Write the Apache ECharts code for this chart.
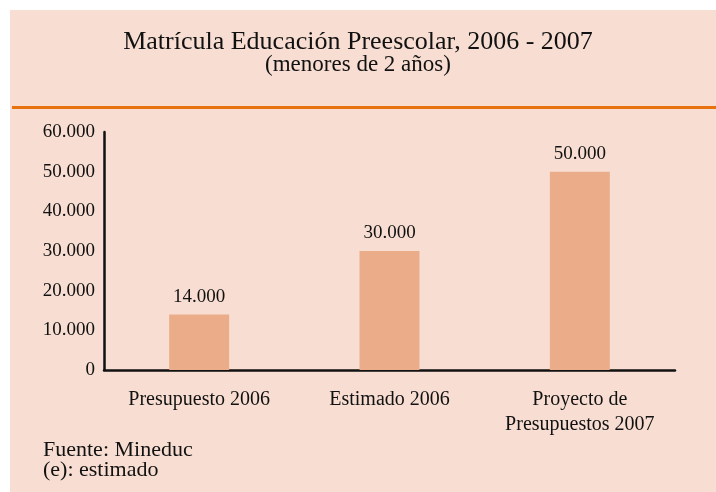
<!DOCTYPE html>
<html>
<head>
<meta charset="utf-8">
<script src="https://cdn.jsdelivr.net/npm/echarts@6/dist/echarts.min.js"></script>
<style>
  html, body { margin: 0; padding: 0; background: #ffffff; }
  #main { width: 716px; height: 492px; }
</style>
</head>
<body>
<div id="main"></div>
<script>
// datos del grafico
var categorias = ['Presupuesto 2006', 'Estimado 2006', 'Proyecto de\nPresupuestos 2007'];
var matricula = [14000, 30000, 50000];
var ticksY = [0, 10000, 20000, 30000, 40000, 50000, 60000];

function formatoMiles(v) {
    // 14000 -> 14.000
    return String(v).replace(/\B(?=(\d{3})+(?!\d))/g, '.');
}

var fondo = '#f8ded2';
var serif = '"Liberation Serif", "Times New Roman", serif';

var myChart = echarts.init(document.getElementById('main'));

var option = {
    backgroundColor: '#ffffff',
    animation: false,
    graphic: [
        {
            type: 'rect',
            z: -10,
            shape: { x: 10, y: 10, width: 706, height: 482 },
            style: { fill: fondo }
        },
        {
            type: 'rect',
            z: -5,
            shape: { x: 12, y: 106, width: 704, height: 3 },
            style: { fill: '#e8720f' }
        }
    ],
    title: [{
        text: 'Matrícula Educación Preescolar, 2006 - 2007',
        subtext: '(menores de 2 años)',
        left: 'center',
        top: 30,
        padding: 0,
        itemGap: -3,
        textStyle: {
            fontFamily: serif,
            fontSize: 26,
            fontWeight: 'normal',
            lineHeight: 25,
            color: '#111111'
        },
        subtextStyle: {
            fontFamily: serif,
            fontSize: 23,
            lineHeight: 23,
            color: '#111111'
        }
    }, {
        // nota de fuente
        text: 'Fuente: Mineduc',
        subtext: '(e): estimado',
        left: 43,
        top: 439,
        padding: 0,
        itemGap: -2,
        textStyle: {
            fontFamily: serif,
            fontSize: 22,
            fontWeight: 'normal',
            lineHeight: 22,
            color: '#111111'
        },
        subtextStyle: {
            fontFamily: serif,
            fontSize: 22,
            lineHeight: 22,
            color: '#111111'
        }
    }],
    grid: {
        left: 104,
        right: 41,
        top: 132,
        bottom: 122,
        containLabel: false
    },
    xAxis: {
        type: 'category',
        data: categorias,
        axisLine: { lineStyle: { color: '#111111', width: 2.5 } },
        axisTick: { show: false },
        axisLabel: {
            margin: 17,
            fontFamily: serif,
            fontSize: 20,
            lineHeight: 25,
            color: '#111111',
            interval: 0
        }
    },
    yAxis: {
        type: 'value',
        min: ticksY[0],
        max: ticksY[ticksY.length - 1],
        interval: 10000,
        axisLine: { show: true, lineStyle: { color: '#111111', width: 2.5 } },
        axisTick: { show: false },
        splitLine: { show: false },
        axisLabel: {
            margin: 9,
            fontFamily: serif,
            fontSize: 19,
            color: '#111111',
            formatter: function (v) { return formatoMiles(v); }
        }
    },
    series: [{
        name: 'Matrícula',
        type: 'bar',
        data: matricula,
        barWidth: 60,
        itemStyle: { color: '#ebac89' },
        label: {
            show: true,
            position: 'top',
            distance: 8,
            fontFamily: serif,
            fontSize: 19,
            color: '#111111',
            formatter: function (p) { return formatoMiles(p.value); }
        }
    }]
};

myChart.setOption(option);
</script>
</body>
</html>
